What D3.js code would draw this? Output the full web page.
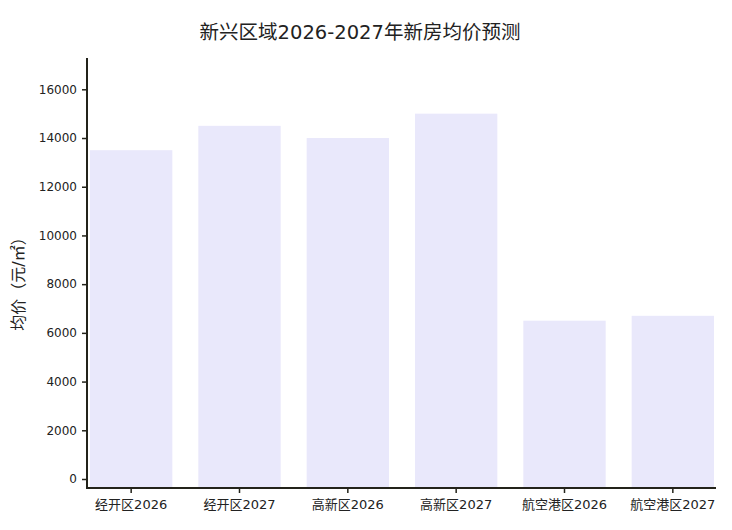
<!DOCTYPE html>
<html>
<head>
<meta charset="utf-8">
<script src="https://cdn.jsdelivr.net/npm/d3@7"></script>
<style>
  body { margin: 0; background: #fff; }
  text { font-family: "DejaVu Sans", "Noto Sans CJK SC", sans-serif; fill: #222; }
</style>
</head>
<body>
<svg id="chart"></svg>
<script>
var width = 732,
    height = 530;

var categories = ["经开区2026", "经开区2027", "高新区2026", "高新区2027", "航空港区2026", "航空港区2027"];
var prices = [13500, 14500, 14000, 15000, 6500, 6700];
var yTicks = [0, 2000, 4000, 6000, 8000, 10000, 12000, 14000, 16000];

var svg = d3.select("#chart")
    .attr("width", width)
    .attr("height", height);

var x = d3.scaleBand()
    .domain(categories)
    .range([90, 714])
    .paddingInner(0.24)
    .paddingOuter(0);

var y = d3.scaleLinear()
    .domain([0, 16000])
    .range([479, 89.3]);

var axisColor = "#23231a";
var bottom = 488;

// bars
svg.selectAll(".bar")
    .data(prices)
    .enter().append("rect")
    .attr("class", "bar")
    .attr("x", function(d, i) { return x(categories[i]); })
    .attr("y", function(d) { return y(d); })
    .attr("width", x.bandwidth())
    .attr("height", function(d) { return bottom - y(d); })
    .style("fill", "#e9e8fb");

// y axis
var yAxis = svg.append("g")
    .attr("transform", "translate(87,0)")
    .call(d3.axisLeft(y).tickValues(yTicks).tickSize(5).tickPadding(5).tickFormat(d3.format("d")));
yAxis.select(".domain").remove();
yAxis.selectAll(".tick line").attr("stroke", axisColor).attr("stroke-width", 1.5);
yAxis.selectAll(".tick text").style("font-size", "12px");

svg.append("line")
    .attr("x1", 87).attr("x2", 87)
    .attr("y1", 58).attr("y2", bottom + 1)
    .attr("stroke", axisColor).attr("stroke-width", 2);

// x axis
var xAxis = svg.append("g")
    .attr("transform", "translate(0," + bottom + ")")
    .call(d3.axisBottom(x).tickSize(5).tickPadding(7));
xAxis.select(".domain").remove();
xAxis.selectAll(".tick line").attr("stroke", axisColor).attr("stroke-width", 1.5);
xAxis.selectAll(".tick text").style("font-size", "13px");

svg.append("line")
    .attr("x1", 86).attr("x2", 716)
    .attr("y1", bottom).attr("y2", bottom)
    .attr("stroke", axisColor).attr("stroke-width", 2);

// titles
svg.append("text")
    .attr("x", 360)
    .attr("y", 39)
    .attr("text-anchor", "middle")
    .style("font-size", "19.5px")
    .text("新兴区域2026-2027年新房均价预测");

svg.append("text")
    .attr("transform", "translate(24,280) rotate(-90)")
    .attr("text-anchor", "middle")
    .style("font-size", "16px")
    .text("均价（元/㎡）");
</script>
</body>
</html>
